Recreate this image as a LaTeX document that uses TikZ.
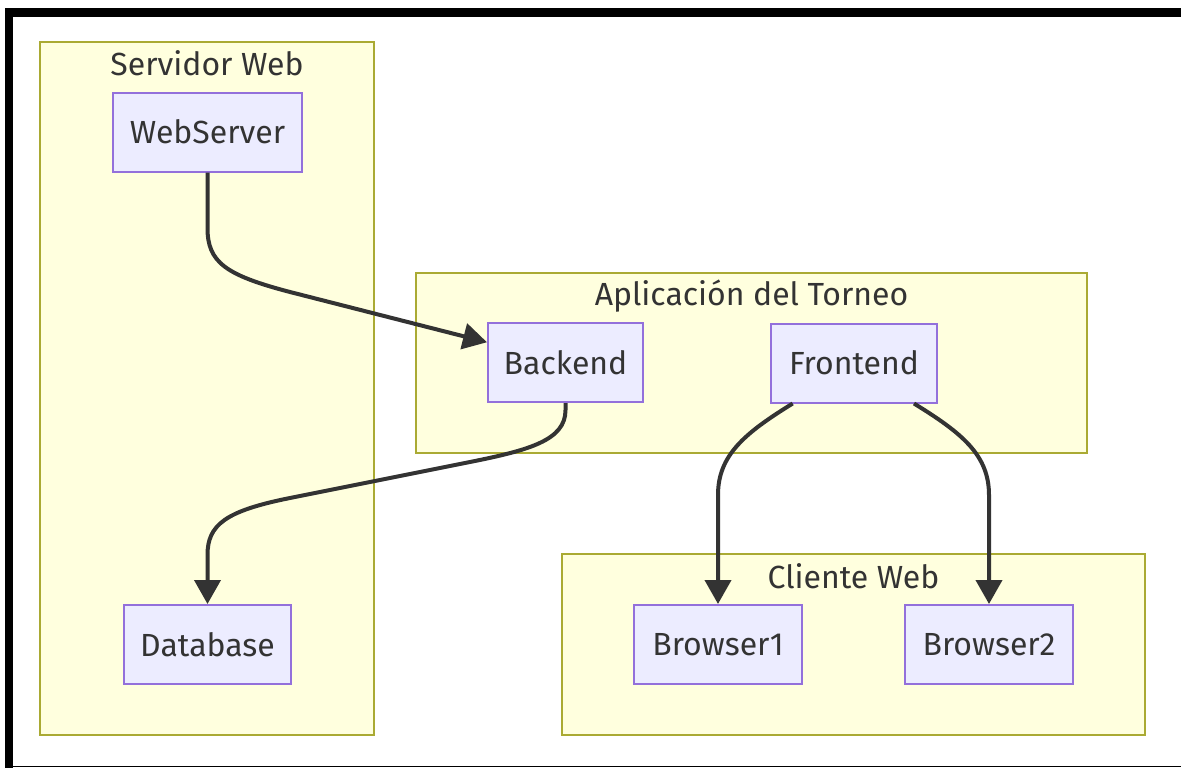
\documentclass[tikz,border=0pt]{standalone}
\usepackage{fontspec}
\setmainfont{Fira Sans}
\usetikzlibrary{arrows.meta,positioning,calc}
\definecolor{clusterfill}{HTML}{FFFFDE}
\definecolor{clusterline}{HTML}{AAAA33}
\definecolor{boxfill}{HTML}{ECECFF}
\definecolor{boxline}{HTML}{9370DB}
\definecolor{ink}{HTML}{333333}
\tikzset{
  >={Triangle[length=24pt,width=26pt]},
  cluster/.style={draw=clusterline, fill=clusterfill, line width=2pt},
  clustertitle/.style={text=ink, font=\fontsize{32}{36}\selectfont, anchor=base, inner sep=0pt},
  box/.style={draw=boxline, fill=boxfill, line width=2pt, text=ink,
    font=\fontsize{32}{36}\selectfont, minimum height=79pt, inner sep=0pt},
  flow/.style={->, draw=ink, line width=4pt},
}
\begin{document}
\begin{tikzpicture}[
x=1pt, y=-1pt
]
\useasboundingbox (0,0) rectangle (1181,768);

% frame
\fill[black] (5,8) rectangle (1181,17);
\fill[black] (5,8) rectangle (13,768);
\draw[black, line width=1.5pt] (13,766.5) -- (1181,766.5);

% clusters
\draw[cluster] (40,42) rectangle (374,735);
\node[clustertitle] (srvtitle) at (207,75) {Servidor Web};
\draw[cluster] (416,273) rectangle (1087,453);
\node[clustertitle] (apptitle) at (751.5,305) {Aplicación del Torneo};
\draw[cluster] (562,554) rectangle (1145,735);
\node[clustertitle] (clititle) at (853.5,588) {Cliente Web};

% nodes
\node[box, minimum width=189pt] (web) at (207.5,132) {WebServer};
\node[box, minimum width=167pt] (db) at (207.5,644.5) {Database};
\node[box, minimum width=155pt] (back) at (565.5,362.5) {Backend};
\node[box, minimum width=166pt] (front) at (854,363) {Frontend};
\node[box, minimum width=168pt] (br1) at (718,644.5) {Browser1};
\node[box, minimum width=168pt] (br2) at (989,644.5) {Browser2};

% connectors
\draw[flow] (web.south) -- (207.5,228)
  .. controls (207.5,262) and (225,275) .. (290,292)
  -- ($(back.north west)!0.25!(back.south west)$);
\draw[flow] (back.south) -- (565.5,410)
  .. controls (565.5,440) and (530,450) .. (470,462)
  -- (290,498)
  .. controls (225,511) and (207.5,525) .. (207.5,555)
  -- (db.north);
\draw[flow] ($(front.south west)!0.135!(front.south east)$)
  .. controls (745,433) and (718,455) .. (718,495)
  -- (br1.north);
\draw[flow] ($(front.south west)!0.857!(front.south east)$)
  .. controls (962,433) and (989,455) .. (989,495)
  -- (br2.north);
\end{tikzpicture}
\end{document}
